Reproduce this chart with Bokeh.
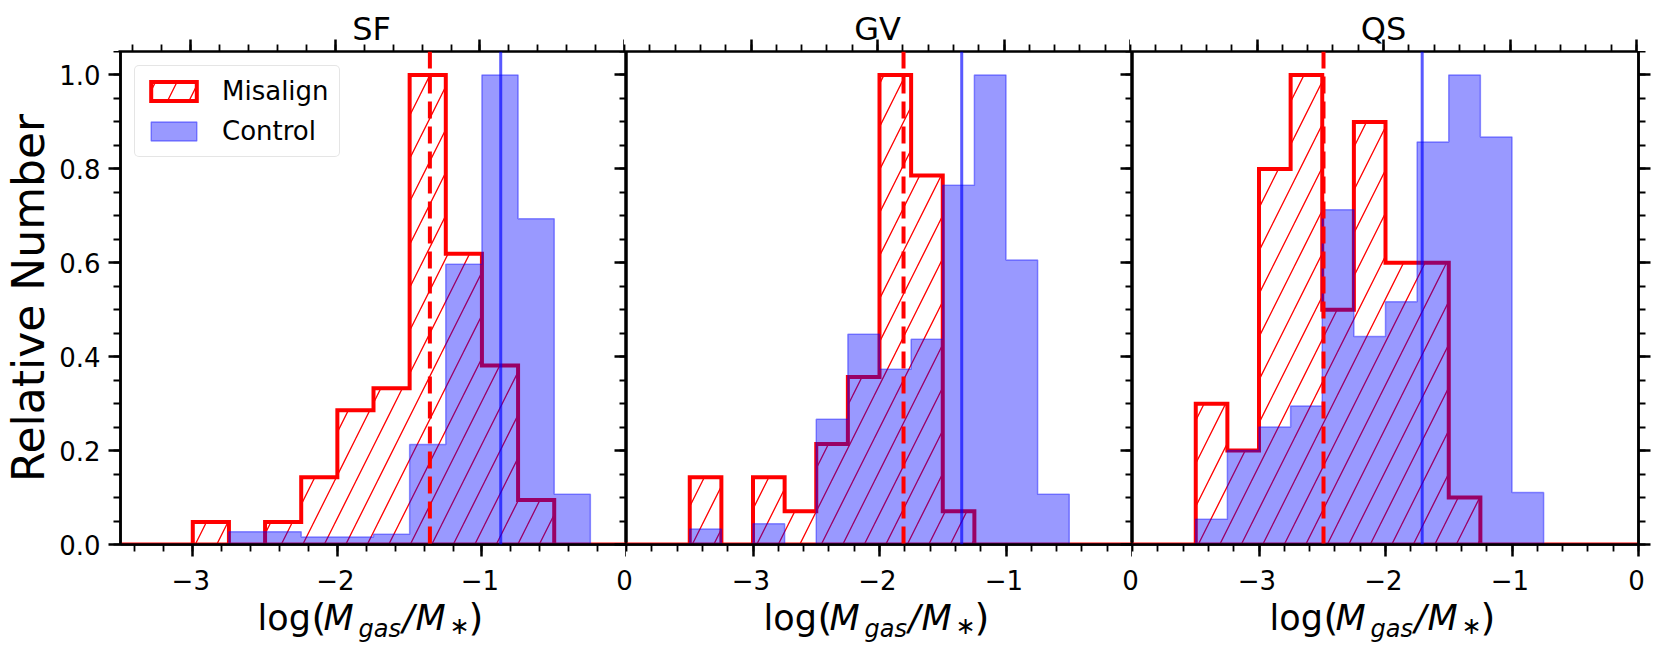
import numpy as np
from bokeh.plotting import figure
from bokeh.models import (Range1d, LinearAxis, FixedTicker, PrintfTickFormatter,
                          CustomJSTickFormatter, Label, Legend, LegendItem, Span)
from bokeh.layouts import row, column
from bokeh.embed import file_html
from bokeh.resources import INLINE

FONT = "DejaVu Sans"
BIN_WIDTH = 0.25

panel_names = ["SF", "GV", "QS"]
panel_xmin = [-3.5, -4.0, -4.0]
panel_xmax = [0.0, 0.0, 0.0]

# relative number per 0.25-dex bin, first bin starts at the panel's xmin
sf_misalign = [0, 0, 0.048, 0, 0.048, 0.143, 0.286, 0.333, 1.0, 0.619, 0.381, 0.095, 0, 0]
sf_control = [0, 0, 0, 0.027, 0.027, 0.016, 0.016, 0.022, 0.213, 0.597, 1.0, 0.694, 0.107, 0]
gv_misalign = [0, 0, 0.143, 0, 0.143, 0.071, 0.214, 0.357, 1.0, 0.786, 0.071, 0, 0, 0, 0, 0]
gv_control = [0, 0, 0.033, 0, 0.044, 0, 0.267, 0.448, 0.373, 0.437, 0.765, 1.0, 0.606, 0.107, 0, 0]
qs_misalign = [0, 0, 0.3, 0.2, 0.8, 1.0, 0.5, 0.9, 0.6, 0.6, 0.1, 0, 0, 0, 0, 0]
qs_control = [0, 0, 0.054, 0.2, 0.25, 0.295, 0.713, 0.443, 0.517, 0.857, 1.0, 0.868, 0.111, 0, 0, 0]

median_misalign = [-1.36, -1.81, -2.49]
median_control = [-0.87, -1.35, -1.71]

misalign_sets = [sf_misalign, gv_misalign, qs_misalign]
control_sets = [sf_control, gv_control, qs_control]

y_major = [0.0, 0.2, 0.4, 0.6, 0.8, 1.0]
x_major = [-3, -2, -1, 0]
x_tick_text = ["\u22123", "\u22122", "\u22121", "0"]

FRAME_W, FRAME_H = 506, 493
LEFT, RIGHT = 118, 16
TITLE_H, LABEL_H = 51, 90
BOTTOM = 16
MID = 0.346  # distance from text middle down to baseline, in em

EMPTY = CustomJSTickFormatter(code="return ''")


def step_polygon(xmin, heights):
    edges = xmin + BIN_WIDTH * np.arange(len(heights) + 1)
    xs, ys = [edges[0]], [0.0]
    for i, h in enumerate(heights):
        xs += [edges[i], edges[i + 1]]
        ys += [h, h]
    xs.append(edges[-1])
    ys.append(0.0)
    return xs, ys


def style_axis(ax, inward=False, labels=True):
    ax.axis_line_color = "black"
    ax.axis_line_width = 2.5
    ax.major_tick_line_width = 2.5
    ax.minor_tick_line_width = 1.8
    ax.major_tick_line_color = "black"
    ax.minor_tick_line_color = "black"
    if inward:
        ax.major_tick_in, ax.major_tick_out = 12, 0
        ax.minor_tick_in, ax.minor_tick_out = 7, 0
    else:
        ax.major_tick_in, ax.major_tick_out = 0, 12
        ax.minor_tick_in, ax.minor_tick_out = 0, 7
    if labels:
        ax.major_label_text_font = FONT
        ax.major_label_text_font_size = "26px"
        ax.major_label_text_color = "black"
        ax.major_label_standoff = 8
    else:
        ax.formatter = EMPTY
        ax.major_label_text_font_size = "1px"
        ax.major_label_standoff = 0


def x_minor_ticks(xmin):
    return [round(v, 2) for v in np.arange(-4.0, 0.001, 0.2) if v >= xmin - 1e-9]


def mid_y(baseline, size_px):
    return baseline + MID * size_px


def make_panel(i):
    first, last = i == 0, i == 2
    xmin = panel_xmin[i]
    p = figure(frame_width=FRAME_W, frame_height=FRAME_H,
               x_range=Range1d(xmin, panel_xmax[i]), y_range=Range1d(0, 1.05),
               output_backend="svg", toolbar_location=None,
               x_axis_location=None, y_axis_location=None,
               min_border_left=LEFT if first else 0,
               min_border_right=RIGHT if last else 0,
               min_border_top=0, min_border_bottom=BOTTOM,
               background_fill_color="white", border_fill_color="white")
    p.grid.visible = False
    p.outline_line_color = "black"
    p.outline_line_width = 2.5

    y_minor = [round(v, 2) for v in np.arange(0, 1.0501, 0.05)]

    bottom = LinearAxis(ticker=FixedTicker(ticks=x_major, minor_ticks=x_minor_ticks(xmin)))
    style_axis(bottom, labels=False)
    p.add_layout(bottom, "below")

    if first:
        left = LinearAxis(ticker=FixedTicker(ticks=y_major, minor_ticks=y_minor),
                          formatter=PrintfTickFormatter(format="%.1f"),
                          axis_label="Relative Number")
        style_axis(left)
        left.axis_label_text_font = FONT
        left.axis_label_text_font_size = "44px"
        left.axis_label_text_font_style = "normal"
        left.axis_label_text_color = "black"
        left.axis_label_standoff = 2
        p.add_layout(left, "left")
    right = LinearAxis(ticker=FixedTicker(ticks=y_major, minor_ticks=y_minor))
    style_axis(right, inward=not last, labels=False)
    p.add_layout(right, "right")

    mx, my = step_polygon(xmin, misalign_sets[i])
    cx, cy = step_polygon(xmin, control_sets[i])
    r_mis = p.patch(mx, my, fill_color="white", fill_alpha=0.0,
                    line_color="red", line_width=4, line_join="miter",
                    hatch_pattern="/", hatch_color="red", hatch_scale=43, hatch_weight=1.3)
    r_ctl = p.patch(cx, cy, fill_color="blue", fill_alpha=0.4,
                    line_color="blue", line_alpha=0.4, line_width=1.5)

    p.add_layout(Span(location=median_misalign[i], dimension="height", line_color="red",
                      line_width=4, line_dash="17 8"))
    p.add_layout(Span(location=median_control[i], dimension="height", line_color="blue",
                      line_alpha=0.65, line_width=3))

    if first:
        legend = Legend(items=[LegendItem(label="Misalign", renderers=[r_mis]),
                               LegendItem(label="Control", renderers=[r_ctl])],
                        location="top_left", margin=14, padding=10, spacing=10,
                        glyph_width=57, glyph_height=24, label_standoff=20, label_height=30,
                        label_text_font=FONT, label_text_font_size="26px",
                        label_text_color="black",
                        border_line_color="#cccccc", border_line_width=1.5,
                        background_fill_color="white", background_fill_alpha=0.8,
                        border_radius=5)
        p.add_layout(legend)
    return p


def make_title_strip(i):
    # sits on top of panel i: carries the panel title and the top-edge tick marks
    first, last = i == 0, i == 2
    xmin = panel_xmin[i]
    s = figure(frame_width=FRAME_W, frame_height=TITLE_H,
               x_range=Range1d(xmin, panel_xmax[i]), y_range=Range1d(0, 1),
               output_backend="svg", toolbar_location=None,
               x_axis_location=None, y_axis_location=None,
               min_border_left=LEFT if first else 0,
               min_border_right=RIGHT if last else 0,
               min_border_top=0, min_border_bottom=0,
               background_fill_color="white", border_fill_color="white")
    s.grid.visible = False
    s.outline_line_color = None
    top = LinearAxis(ticker=FixedTicker(ticks=x_major, minor_ticks=x_minor_ticks(xmin)))
    style_axis(top, inward=True, labels=False)
    s.add_layout(top, "below")
    s.add_layout(Label(x=(xmin + panel_xmax[i]) / 2, y=mid_y(11, 32), y_units="screen",
                       text=panel_names[i], text_align="center", text_baseline="middle",
                       text_font=FONT, text_font_size="32px", text_color="black"))
    return s


def make_label_strip(height):
    # frame covers the three panels plus the right border, so edge labels are not clipped
    s = figure(frame_width=3 * FRAME_W + RIGHT, frame_height=height,
               x_range=Range1d(0, 1), y_range=Range1d(0, 1),
               output_backend="svg", toolbar_location=None,
               x_axis_location=None, y_axis_location=None,
               min_border_left=LEFT, min_border_right=0,
               min_border_top=0, min_border_bottom=0,
               background_fill_color="white", border_fill_color="white")
    s.grid.visible = False
    s.outline_line_color = None
    # one x range per panel: panel i's data range covers its own third of the strip
    for i in range(3):
        span = panel_xmax[i] - panel_xmin[i]
        s.extra_x_ranges[f"p{i}"] = Range1d(panel_xmin[i] - i * span,
                                            panel_xmax[i] + (2 - i) * span + RIGHT * span / FRAME_W)
    return s


label_strip = make_label_strip(LABEL_H)
xlabel_pieces = [("log", 139, 20, "normal", 35),
                 ("(", 193, 20, "normal", 38),
                 ("M", 205, 20, "italic", 35),
                 ("gas", 240, 13, "italic", 24),
                 ("/", 284, 20, "italic", 35),
                 ("M", 297, 20, "italic", 35),
                 ("\u2217", 331, 16, "normal", 24),
                 (")", 350, 20, "normal", 38)]
for i in range(3):
    for tv, tt in zip(x_major, x_tick_text):
        label_strip.add_layout(Label(x=tv, y=mid_y(62, 26), x_range_name=f"p{i}", y_units="screen",
                                     text=tt, text_align="center", text_baseline="middle",
                                     text_font=FONT, text_font_size="26px", text_color="black"))
    for txt, px, py, style, size in xlabel_pieces:
        label_strip.add_layout(Label(x=i * FRAME_W + px, y=mid_y(py, size),
                                     x_units="screen", y_units="screen",
                                     text=txt, text_align="left", text_baseline="middle",
                                     text_font=FONT, text_font_style=style,
                                     text_font_size=f"{size}px", text_color="black"))

title_strips = [make_title_strip(i) for i in range(3)]
panels = [make_panel(i) for i in range(3)]
layout = column(row(*title_strips, spacing=0), row(*panels, spacing=0), label_strip, spacing=0)
open("out.html", "w").write(file_html(layout, INLINE))
